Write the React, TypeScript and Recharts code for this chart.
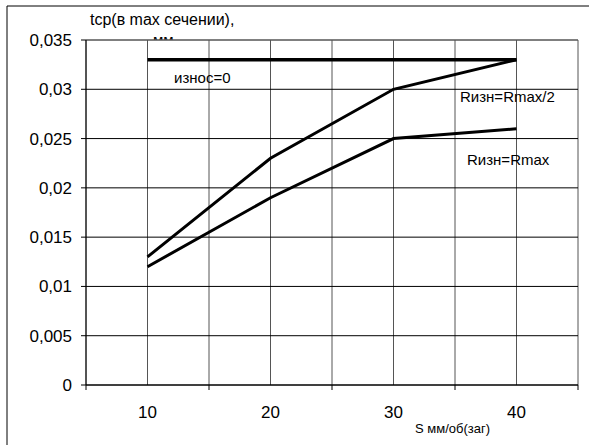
import React from 'react';
import { LineChart, Line, XAxis, YAxis, CartesianGrid, ReferenceLine, Customized } from 'recharts';

// feed S, mm/rev
const feeds = [10, 20, 30, 40];
// average thickness in max section, mm
const wearZero = [0.033, 0.033, 0.033, 0.033];
const wearHalf = [0.013, 0.023, 0.03, 0.033];
const wearFull = [0.012, 0.019, 0.025, 0.026];
const yTicks = [0, 0.005, 0.01, 0.015, 0.02, 0.025, 0.03, 0.035];

const data = feeds.map((s, i) => ({
  s,
  zero: wearZero[i],
  half: wearHalf[i],
  full: wearFull[i],
}));

// band edges half way between the feeds, like Excel's category axis
const step = feeds[1] - feeds[0];
const xTicks = [feeds[0] - step / 2, ...feeds.flatMap((v) => [v, v + step / 2])];

const font = '"Liberation Sans", Arial, sans-serif';

const XTick = (props: any) => {
  const { x, y, payload } = props;
  if (feeds.includes(payload.value)) {
    return (
      <text x={x} y={y} dy={28} textAnchor="middle" fontSize={17} fontFamily={font} fill="#000">
        {payload.value}
      </text>
    );
  }
  return <line x1={x} x2={x} y1={y - 5} y2={y} stroke="#000" strokeWidth={1} />;
};

const Notes = () => (
  <g fontFamily={font} fill="#000">
    <line x1={7} y1={6} x2={589} y2={6} stroke="#000" />
    <line x1={7} y1={6} x2={7} y2={445} stroke="#000" />
    <defs>
      <clipPath id="mmClip">
        <rect x={0} y={0} width={589} height={40} />
      </clipPath>
    </defs>
    <text x={90} y={25} fontSize={16}>tcp(в  max сечении),</text>
    <text x={153} y={45} fontSize={15} clipPath="url(#mmClip)">мм</text>
    <text x={174} y={83} fontSize={15}>износ=0</text>
    <text x={460} y={102} fontSize={15}>Rизн=Rmax/2</text>
    <text x={467} y={165} fontSize={15}>Rизн=Rmax</text>
    <text x={415} y={433} fontSize={13}>S мм/об(заг)</text>
  </g>
);

export default function App() {
  return (
    <div style={{ position: 'absolute', left: 0, top: 0, width: 589, height: 445, background: '#fff' }}>
      <LineChart width={589} height={445} data={data} margin={{ top: 40, right: 11, bottom: 30, left: 6 }}>
        <CartesianGrid horizontal={false} stroke="#555" />
        <CartesianGrid vertical={false} stroke="#000" />
        <ReferenceLine y={0.035} stroke="#808080" />
        <XAxis
          dataKey="s"
          type="number"
          domain={[xTicks[0], xTicks[xTicks.length - 1]]}
          ticks={xTicks}
          interval={0}
          tickSize={5}
          tickMargin={0}
          tickLine={false}
          tick={<XTick />}
          axisLine={{ stroke: '#000' }}
          height={30}
        />
        <YAxis
          type="number"
          domain={[0, 0.035]}
          ticks={yTicks}
          interval={0}
          width={80}
          tickSize={5}
          tickMargin={9}
          tickFormatter={(v: number) => String(v).replace('.', ',')}
          tick={{ fill: '#000', fontSize: 17, fontFamily: font }}
          tickLine={{ stroke: '#000' }}
          axisLine={{ stroke: '#000' }}
        />
        <Line type="linear" dataKey="zero" stroke="#000" strokeWidth={3.5} dot={false} isAnimationActive={false} />
        <Line type="linear" dataKey="half" stroke="#000" strokeWidth={3} dot={false} isAnimationActive={false} />
        <Line type="linear" dataKey="full" stroke="#000" strokeWidth={3} dot={false} isAnimationActive={false} />
        <Customized component={Notes} />
      </LineChart>
    </div>
  );
}
